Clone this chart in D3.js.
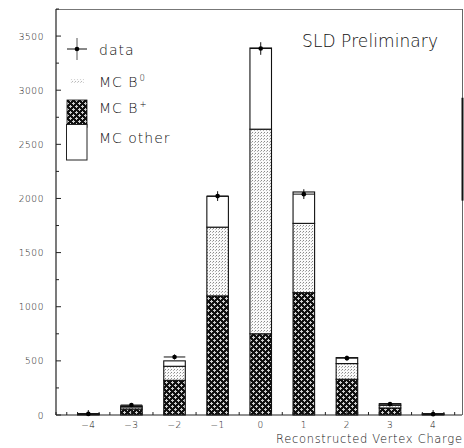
<!DOCTYPE html>
<html>
<head>
<meta charset="utf-8">
<script src="https://cdn.jsdelivr.net/npm/d3@7"></script>
<style>
  html, body { margin: 0; padding: 0; background: #fff; }
  svg text { font-family: "DejaVu Sans ExtraLight", "DejaVu Sans", sans-serif; font-weight: 200; fill: #111; }
</style>
</head>
<body>
<svg id="chart" width="464" height="448"></svg>
<script>
// ---- data ----
const charges  = [-4, -3, -2, -1, 0, 1, 2, 3, 4];
const mcBplus  = [6, 55, 320, 1100, 750, 1130, 330, 65, 6];
const mcB0     = [3, 20, 130, 635, 1890, 640, 145, 25, 3];
const mcOther  = [3, 10, 50, 285, 750, 290, 55, 15, 3];
const dataVals = [10, 92, 536, 2022, 3385, 2040, 525, 100, 8];
const yTickLabels = [0, 500, 1000, 1500, 2000, 2500, 3000, 3500];
const xTickLabels = [-4, -3, -2, -1, 0, 1, 2, 3, 4];
const legendLabels = ["data", "MC B", "MC B", "MC other"];
const legendSups = ["", "0", "+", ""];
const xTitle = "Reconstructed Vertex Charge";
const note = "SLD Preliminary";

(function () {
const svg = d3.select("#chart");
const pLeft = 56, pRight = 462, pTop = 9, pBottom = 415;

const x = d3.scaleLinear().domain([-4.75, 4.67]).range([pLeft, pRight]);
const y = d3.scaleLinear().domain([0, 3750]).range([pBottom, pTop]);

// patterns
const defs = svg.append("defs");
const pd = defs.append("pattern").attr("id", "dark").attr("patternUnits", "userSpaceOnUse")
  .attr("width", 6).attr("height", 6);
pd.append("rect").attr("width", 6).attr("height", 6).attr("fill", "#111");
[[1,1],[4,4]].forEach(([cx, cy]) => {
  [[0,0],[1,0],[-1,0],[0,1],[0,-1]].forEach(([dx, dy]) =>
    pd.append("rect").attr("x", cx + dx).attr("y", cy + dy)
      .attr("width", 1).attr("height", 1).attr("fill", "#cfcfcf"));
});
const pl = defs.append("pattern").attr("id", "light").attr("patternUnits", "userSpaceOnUse")
  .attr("width", 3).attr("height", 3);
pl.append("rect").attr("width", 3).attr("height", 3).attr("fill", "#fafafa");
pl.append("rect").attr("x", 0).attr("y", 0).attr("width", 1).attr("height", 1).attr("fill", "#8a8a8a");
pl.append("rect").attr("x", 2).attr("y", 1).attr("width", 1).attr("height", 1).attr("fill", "#b5b5b5");

// frame (top / right)
svg.append("line").attr("x1", pLeft).attr("x2", pRight).attr("y1", pTop + 0.5).attr("y2", pTop + 0.5)
  .attr("stroke", "#777").attr("stroke-width", 1);
svg.append("line").attr("x1", pRight + 0.5).attr("x2", pRight + 0.5).attr("y1", pTop).attr("y2", pBottom)
  .attr("stroke", "#666").attr("stroke-width", 1);
svg.append("line").attr("x1", pRight + 0.5).attr("x2", pRight + 0.5).attr("y1", y(2930)).attr("y2", y(1980))
  .attr("stroke", "#111").attr("stroke-width", 2);

// stacked bars
const bw = x(0.25) - x(-0.25);
const stacks = charges.map((c, i) => {
  const b1 = mcBplus[i], b2 = b1 + mcB0[i], b3 = b2 + mcOther[i];
  return [{c, y0: 0, y1: b1, fill: "url(#dark)"},
          {c, y0: b1, y1: b2, fill: "url(#light)"},
          {c, y0: b2, y1: b3, fill: "#fff"}];
}).flat();

svg.append("g").selectAll("rect").data(stacks).join("rect")
  .attr("x", d => x(d.c) - bw / 2)
  .attr("width", bw)
  .attr("y", d => y(d.y1))
  .attr("height", d => Math.max(0, y(d.y0) - y(d.y1)))
  .attr("fill", d => d.fill)
  .attr("stroke", "#111").attr("stroke-width", 1.1);

// axes
const yAxis = svg.append("g");
yAxis.append("line").attr("x1", pLeft).attr("x2", pLeft).attr("y1", pTop).attr("y2", pBottom)
  .attr("stroke", "#222").attr("stroke-width", 1.2);
d3.range(0, 3751, 250).forEach(v => {
  const major = v % 500 === 0;
  yAxis.append("line").attr("x1", pLeft).attr("x2", pLeft + (major ? 5 : 3))
    .attr("y1", y(v)).attr("y2", y(v)).attr("stroke", "#222").attr("stroke-width", 1);
});
yAxis.selectAll("text").data(yTickLabels).join("text")
  .attr("x", 44).attr("y", d => y(d) + 3.5)
  .attr("text-anchor", "end").attr("font-size", 9).attr("letter-spacing", 0.6)
  .text(d => d);

const xAxis = svg.append("g");
xAxis.append("line").attr("x1", pLeft).attr("x2", pRight).attr("y1", pBottom).attr("y2", pBottom)
  .attr("stroke", "#222").attr("stroke-width", 1.2);
d3.range(-4.75, 4.7, 0.25).forEach(v => {
  const major = Math.abs(v - Math.round(v)) < 1e-6;
  xAxis.append("line").attr("x1", x(v)).attr("x2", x(v))
    .attr("y1", pBottom).attr("y2", pBottom - (major ? 5 : 3)).attr("stroke", "#222").attr("stroke-width", 1);
});
xAxis.selectAll("text").data(xTickLabels).join("text")
  .attr("x", d => x(d)).attr("y", 428)
  .attr("text-anchor", "middle").attr("font-size", 9).attr("letter-spacing", 0.5)
  .text(d => d < 0 ? "\u2212" + Math.abs(d) : d);

svg.append("text").attr("x", 462).attr("y", 443).attr("text-anchor", "end")
  .attr("font-size", 11.5).attr("textLength", 186).attr("lengthAdjust", "spacing")
  .text(xTitle);

// data points with errors
const pts = svg.append("g");
charges.forEach((c, i) => {
  const v = dataVals[i], e = Math.sqrt(v);
  pts.append("line").attr("x1", x(c - 0.25)).attr("x2", x(c + 0.25))
    .attr("y1", y(v)).attr("y2", y(v)).attr("stroke", "#111").attr("stroke-width", 1);
  pts.append("line").attr("x1", x(c)).attr("x2", x(c))
    .attr("y1", y(v - e)).attr("y2", y(v + e)).attr("stroke", "#111").attr("stroke-width", 1);
  pts.append("circle").attr("cx", x(c)).attr("cy", y(v)).attr("r", 2.3).attr("fill", "#000");
});

// note
svg.append("text").attr("x", 302).attr("y", 47).attr("font-size", 17)
  .attr("textLength", 136).attr("lengthAdjust", "spacing").text(note);

// legend
const lg = svg.append("g");
lg.append("line").attr("x1", 67).attr("x2", 87).attr("y1", 49).attr("y2", 49).attr("stroke", "#111");
lg.append("line").attr("x1", 77).attr("x2", 77).attr("y1", 38).attr("y2", 60).attr("stroke", "#555");
lg.append("circle").attr("cx", 77).attr("cy", 49).attr("r", 2.3).attr("fill", "#000");
lg.append("rect").attr("x", 70).attr("y", 79).attr("width", 14).attr("height", 4)
  .attr("fill", "url(#light)").attr("opacity", 0.6);
lg.append("rect").attr("x", 67).attr("y", 100).attr("width", 20).attr("height", 27.5)
  .attr("fill", "url(#dark)").attr("stroke", "#111").attr("stroke-width", 0.8);
lg.append("rect").attr("x", 66.5).attr("y", 124.5).attr("width", 20.5).attr("height", 35.5)
  .attr("fill", "#fff").attr("stroke", "#222").attr("stroke-width", 1);

const baselines = [55, 87, 113, 143];
legendLabels.forEach((t, i) => {
  const tx = lg.append("text").attr("x", 99).attr("y", baselines[i])
    .attr("font-size", 14).attr("letter-spacing", 1);
  tx.append("tspan").text(t);
  if (legendSups[i]) {
    tx.append("tspan").attr("dy", -6).attr("font-size", 8.5).attr("dx", 1).text(legendSups[i]);
  }
});
})();
</script>
</body>
</html>
